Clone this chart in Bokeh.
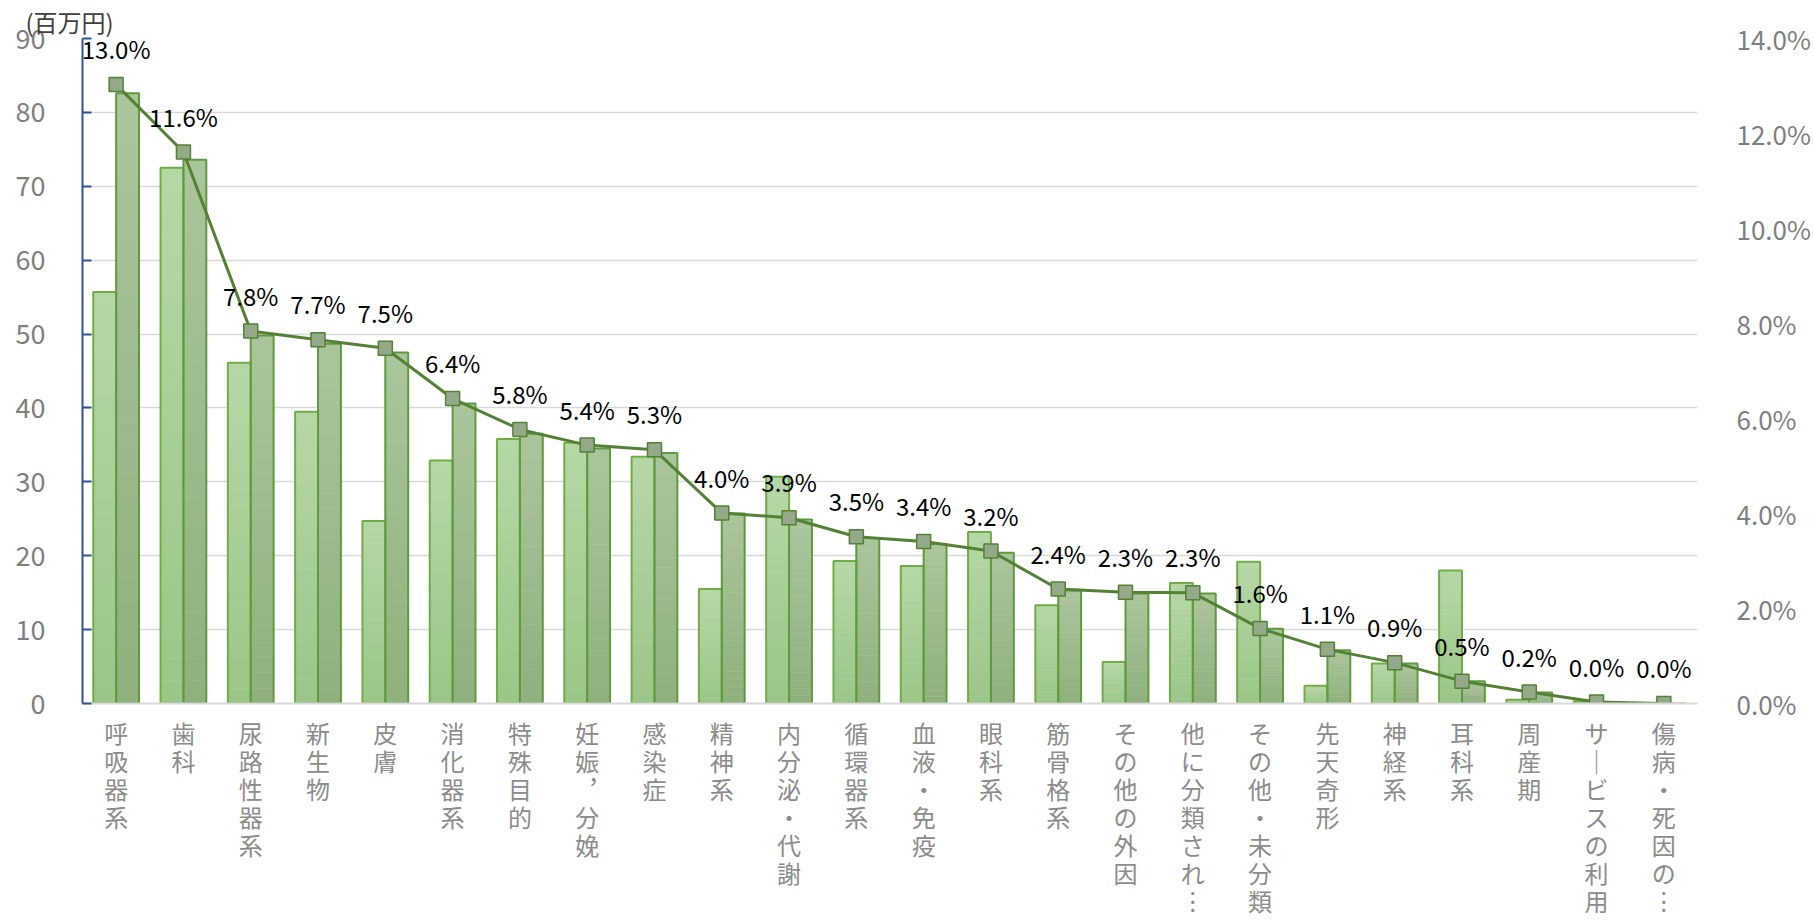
from bokeh.plotting import figure
from bokeh.models import (Range1d, LinearAxis, FixedTicker,
                          PrintfTickFormatter, ColumnDataSource)
from bokeh.core.properties import value
from bokeh.embed import file_html
from bokeh.resources import INLINE

# ---------------- data ----------------
categories = ["呼吸器系", "歯科", "尿路性器系", "新生物", "皮膚", "消化器系",
              "特殊目的", "妊娠，分娩", "感染症", "精神系", "内分泌・代謝",
              "循環器系", "血液・免疫", "眼科系", "筋骨格系", "その他の外因",
              "他に分類され…", "その他・未分類", "先天奇形", "神経系", "耳科系",
              "周産期", "サービスの利用", "傷病・死因の…"]
series_light = [55.7, 72.5, 46.1, 39.5, 24.7, 32.9, 35.8, 35.3, 33.4, 15.5,
                30.7, 19.3, 18.6, 23.2, 13.3, 5.6, 16.3, 19.2, 2.4, 5.4,
                18.0, 0.5, 0.3, 0.0]
series_dark = [82.6, 73.6, 49.8, 48.7, 47.5, 40.6, 36.5, 34.5, 33.9, 25.7,
               24.9, 22.4, 21.6, 20.4, 15.3, 14.9, 14.9, 10.1, 7.2, 5.4,
               3.0, 1.5, 0.2, 0.0]
share_pct = [13.03, 11.61, 7.84, 7.66, 7.48, 6.42, 5.77, 5.44, 5.34, 4.01,
             3.91, 3.51, 3.41, 3.21, 2.41, 2.34, 2.33, 1.58, 1.14, 0.86,
             0.47, 0.24, 0.03, 0.0]
left_ticks = [0, 10, 20, 30, 40, 50, 60, 70, 80, 90]
right_ticks = [0, 2, 4, 6, 8, 10, 12, 14]
unit_label = "(百万円)"

FONT = "Noto Sans CJK JP"
BAR_W = 0.34
W, H = 1813, 920
B_LEFT, B_RIGHT, B_TOP, B_BOTTOM = 82, 112, 38, 216

ncat = len(categories)
xpos = [i + 0.5 for i in range(ncat)]


def stacked(name):
    disp = name.replace("…", "︙").replace("，", "︐").replace("ー", "｜")
    return "\n".join(list(disp))


def mix(c1, c2, t):
    a = [int(c1[i:i + 2], 16) for i in (1, 3, 5)]
    b = [int(c2[i:i + 2], 16) for i in (1, 3, 5)]
    return "#%02x%02x%02x" % tuple(round(a[j] + (b[j] - a[j]) * t) for j in range(3))


p = figure(width=W, height=H,
           x_range=Range1d(0, ncat), y_range=Range1d(0, 90),
           output_backend="svg", toolbar_location=None,
           min_border_left=B_LEFT, min_border_right=B_RIGHT,
           min_border_top=B_TOP, min_border_bottom=B_BOTTOM,
           background_fill_color="white", border_fill_color="white")
p.extra_y_ranges = {"pct": Range1d(0, 14)}
p.outline_line_color = None

# gradient bars (slices)
N = 24


def grad_source(vals, shift, top_hex, bot_hex):
    xs, bs, ts, cs = [], [], [], []
    for x, v in zip(xpos, vals):
        if v <= 0:
            continue
        for k in range(N):
            t = (k + 0.5) / N
            xs.append(x + shift)
            bs.append(v * k / N)
            ts.append(v * (k + 1) / N)
            cs.append(mix(bot_hex, top_hex, t))
    return ColumnDataSource(dict(x=xs, b=bs, t=ts, c=cs))


src_l = grad_source(series_light, -BAR_W / 2, "#b6d7a6", "#9ac687")
src_d = grad_source(series_dark, BAR_W / 2, "#abc59c", "#8fb07c")
for s in (src_l, src_d):
    p.vbar(x="x", width=BAR_W, bottom="b", top="t", fill_color="c",
           line_color="c", line_width=0.6, source=s)

src = ColumnDataSource(dict(x=xpos, xl=[x - BAR_W / 2 for x in xpos],
                            xd=[x + BAR_W / 2 for x in xpos],
                            light=series_light, dark=series_dark,
                            share=share_pct,
                            lbl=["%.1f%%" % v for v in share_pct]))
p.vbar(x="xl", width=BAR_W, top="light", bottom=0,
       fill_color=None, line_color="#70ad47", line_width=2, source=src)
p.vbar(x="xd", width=BAR_W, top="dark", bottom=0,
       fill_color=None, line_color="#5f9a3e", line_width=2, source=src)

# share line
p.line(x="x", y="share", y_range_name="pct", line_color="#548235",
       line_width=3, source=src)
p.scatter(x="x", y="share", y_range_name="pct", marker="square", size=14,
          fill_color="#93a98a", line_color="#548235", line_width=1.5, source=src)
p.text(x="x", y="share", y_range_name="pct", text="lbl", y_offset=-36,
       text_align="center", text_baseline="middle", text_font=value(FONT),
       text_font_size="24px", text_color="#000000", source=src)

# left axis
ya = p.yaxis[0]
ya.ticker = FixedTicker(ticks=left_ticks)
ya.axis_line_color = "#2f5597"
ya.axis_line_width = 2
ya.major_tick_in = 9
ya.major_tick_out = 0
ya.major_tick_line_color = "#2f5597"
ya.major_tick_line_width = 2
ya.minor_tick_line_color = None
ya.major_label_text_font = FONT
ya.major_label_text_font_size = "27px"
ya.major_label_text_color = "#7f7f7f"
ya.major_label_standoff = 37

# right axis
ra = LinearAxis(y_range_name="pct", ticker=FixedTicker(ticks=right_ticks),
                formatter=PrintfTickFormatter(format="%.1f%%"))
ra.axis_line_color = None
ra.major_tick_line_color = None
ra.minor_tick_line_color = None
ra.major_label_text_font = FONT
ra.major_label_text_font_size = "26px"
ra.major_label_text_color = "#7f7f7f"
ra.major_label_standoff = 33
p.add_layout(ra, "right")

# x axis with stacked (vertical) category labels
xa = p.xaxis[0]
xa.ticker = FixedTicker(ticks=xpos)
xa.major_label_overrides = {x: stacked(c) for x, c in zip(xpos, categories)}
xa.axis_line_color = "#d9d9d9"
xa.axis_line_width = 2
xa.major_tick_line_color = None
xa.minor_tick_line_color = None
xa.major_label_text_font = FONT
xa.major_label_text_font_size = "24px"
xa.major_label_text_color = "#8c8c8c"
xa.major_label_text_line_height = 0.8
xa.major_label_standoff = 5
xa.major_label_orientation = "horizontal"

p.xgrid.visible = False
p.ygrid.grid_line_color = "#d9d9d9"
p.ygrid.grid_line_width = 1.5
p.ygrid.ticker = FixedTicker(ticks=left_ticks)

p.title.text = unit_label
p.title.align = "left"
p.title.offset = -57
p.title.text_font = FONT
p.title.text_font_size = "24px"
p.title.text_font_style = "normal"
p.title.text_color = "#404040"
p.title.standoff = 0

open("out.html", "w").write(file_html(p, INLINE))
